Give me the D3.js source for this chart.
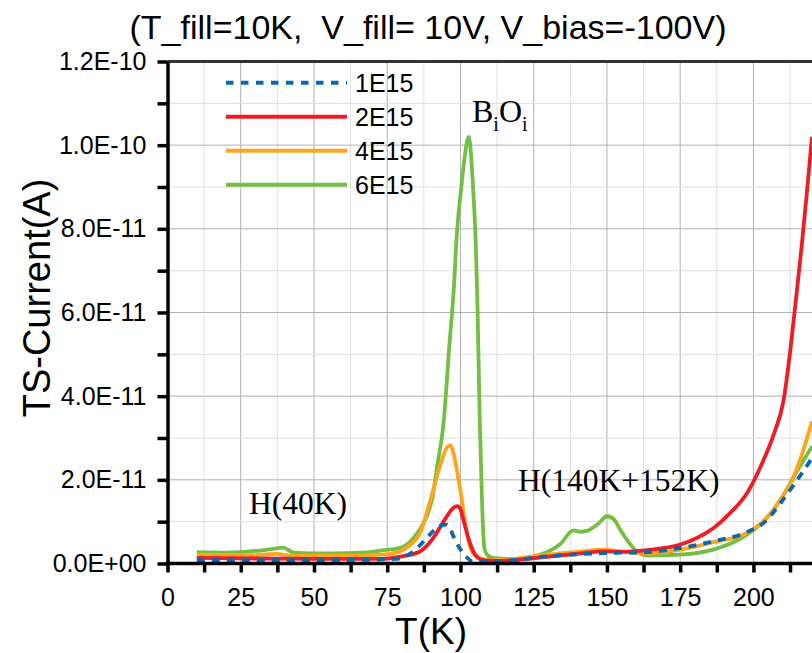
<!doctype html>
<html>
<head>
<meta charset="UTF-8">
<title>TS-Current vs T</title>
<script src="https://d3js.org/d3.v7.min.js"></script>
<style>
  body { margin: 0; background: #fff; }
</style>
</head>
<body>
<svg id="chart" width="812" height="653" font-family="Liberation Sans, Arial, sans-serif"></svg>
<script>
// temperatures (K) and currents (pA = 1E-12 A)
var tBlue = [10, 30, 50, 70, 78, 82, 85, 88, 90.8, 93, 95.3, 96.5, 97.4, 98.6, 99.7, 101, 102, 104.2, 110, 118, 129.5, 140, 149, 163.7, 175, 186.3, 197.8, 204, 209.2, 214, 220];
var iBlue = [0.8, 0.8, 0.8, 0.9, 1.1, 2.0, 3.5, 5.7, 7.8, 9.0, 9.3, 8.4, 6.8, 5.0, 3.7, 2.4, 1.6, 0.5, 0.5, 0.8, 1.7, 2.2, 2.5, 2.7, 3.7, 5.3, 7.5, 10, 14.4, 19, 25.2];

var tRed = [10, 30, 50, 73.6, 80, 86, 89, 91.8, 93.5, 95.3, 97, 98.9, 100, 101, 102.2, 103.3, 104.5, 105.6, 107.9, 112, 118, 129.5, 141, 148.8, 155, 163.7, 175, 180.7, 186.4, 192.1, 197.8, 203.5, 207, 210.3, 212.6, 214.5, 216.5, 218.3, 220];
var iRed = [1.35, 1.2, 1.1, 1.1, 1.7, 2.8, 4.6, 7.2, 9.2, 11.2, 12.9, 13.7, 13.0, 10.4, 7.4, 4.8, 2.8, 1.6, 0.8, 0.6, 0.8, 1.6, 2.4, 2.9, 2.8, 3.2, 4.5, 6.1, 8.5, 12.1, 16.8, 24.8, 31, 39, 51, 63, 76, 89, 102];

var tOrange = [10, 30, 37, 43, 50, 60, 73.6, 80.5, 83.5, 86, 89.5, 92.9, 95.3, 96.6, 97.6, 98.6, 100.3, 102, 103.7, 106, 110, 118, 129.5, 140, 148.8, 156, 163.7, 175, 186.3, 197.8, 204, 209.2, 213.8, 217, 220];
var iOrange = [2.1, 2.0, 2.3, 1.8, 1.8, 1.8, 2.1, 3.3, 4.8, 7.0, 14.5, 23, 27.6, 28.3, 26.5, 23, 16, 8, 3.2, 1.5, 0.8, 1.1, 2.1, 2.8, 3.3, 2.8, 2.4, 3.3, 5.1, 7.3, 10.5, 15.2, 20.8, 27, 34];

var tGreen = [10, 20, 30, 36, 39.5, 43, 50, 62, 70, 74, 78, 81, 83, 85.5, 88.5, 90.5, 92, 94.3, 96.2, 97.9, 98.6, 100.3, 101.5, 102.8, 104.3, 105.2, 105.8, 106.6, 107.4, 108.2, 109.2, 110.5, 113, 118, 124, 129.5, 134, 138.6, 141, 143.2, 147, 150, 152.5, 154.5, 157.5, 160.2, 163.7, 175, 186.3, 197.8, 204, 209.2, 214, 220];
var iGreen = [2.7, 2.6, 3.0, 3.5, 3.8, 2.6, 2.4, 2.5, 2.8, 3.2, 3.5, 4.2, 5.3, 7.5, 11.3, 16, 23, 34, 52, 67.6, 77, 90, 97.5, 102, 90, 77, 62, 34, 14, 3.5, 2.0, 1.5, 1.2, 1.1, 1.6, 2.7, 4.6, 7.9, 7.6, 7.8, 9.5, 11.3, 10.5, 8.1, 5, 2.9, 1.9, 2.1, 3.3, 6.9, 10.5, 15.2, 21, 28];

var seriesNames = ["1E15", "2E15", "4E15", "6E15"];
var seriesColors = ["#0b67b2", "#ee1d25", "#ffa51d", "#72bf44"];

var xTickValues = [0, 25, 50, 75, 100, 125, 150, 175, 200];
var yTickValues = [0, 20, 40, 60, 80, 100, 120];
var yTickLabels = ["0.0E+00", "2.0E-11", "4.0E-11", "6.0E-11", "8.0E-11", "1.0E-10", "1.2E-10"];

var svg = d3.select("#chart");
var pLeft = 167.5, pRight = 812, pTop = 61.5, pBottom = 563.5;

var x = d3.scaleLinear().domain([0, 220]).range([pLeft, pRight]);
var y = d3.scaleLinear().domain([0, 120]).range([pBottom, pTop]);

// grid
var grid = svg.append("g");
d3.range(12.5, 220, 12.5).forEach(function(t){
  grid.append("line").attr("x1", x(t)).attr("x2", x(t)).attr("y1", pTop).attr("y2", pBottom)
    .attr("stroke", t % 25 === 0 ? "#b0b0b0" : "#dedede").attr("stroke-width", 1);
});
d3.range(10, 120, 10).forEach(function(v){
  grid.append("line").attr("x1", pLeft).attr("x2", pRight).attr("y1", y(v)).attr("y2", y(v))
    .attr("stroke", v % 20 === 0 ? "#b0b0b0" : "#dedede").attr("stroke-width", 1);
});

// top frame
svg.append("line").attr("x1", pLeft).attr("x2", pRight).attr("y1", pTop).attr("y2", pTop)
  .attr("stroke", "#333").attr("stroke-width", 3);

// curves
svg.append("clipPath").attr("id", "clip").append("rect")
  .attr("x", pLeft).attr("y", pTop).attr("width", pRight - pLeft).attr("height", pBottom - pTop);

var line = d3.line().x(function(d){ return x(d[0]); }).y(function(d){ return y(d[1]); })
  .curve(d3.curveMonotoneX);
var series = [
  {t: tBlue, v: iBlue, i: 0},
  {t: tRed, v: iRed, i: 1},
  {t: tOrange, v: iOrange, i: 2},
  {t: tGreen, v: iGreen, i: 3}
];
var plot = svg.append("g").attr("clip-path", "url(#clip)");
series.slice().reverse().forEach(function(s){
  plot.append("path")
    .attr("d", line(d3.zip(s.t, s.v)))
    .attr("fill", "none")
    .attr("stroke", seriesColors[s.i])
    .attr("stroke-width", 3.8)
    .attr("stroke-dasharray", s.i === 0 ? "8,7" : null);
});

// axes
var xAxis = svg.append("g").attr("transform", "translate(0," + pBottom + ")")
  .call(d3.axisBottom(x).tickValues(d3.range(0, 220, 12.5)).tickSize(9).tickSizeOuter(0).tickPadding(16)
    .tickFormat(function(d){ return xTickValues.indexOf(d) >= 0 ? d : ""; }));
var yAxis = svg.append("g").attr("transform", "translate(" + pLeft + ",0)")
  .call(d3.axisLeft(y).tickValues(d3.range(0, 121, 10)).tickSize(10).tickSizeOuter(0).tickPadding(11)
    .tickFormat(function(d){ var k = yTickValues.indexOf(d); return k >= 0 ? yTickLabels[k] : ""; }));
[xAxis, yAxis].forEach(function(a){
  a.attr("font-family", "Liberation Sans, Arial, sans-serif");
  a.select(".domain").attr("stroke", "#000").attr("stroke-width", 3.5);
  a.selectAll(".tick line").attr("stroke", "#000").attr("stroke-width", 3.5);
  a.selectAll(".tick text").attr("font-size", 25).attr("fill", "#000");
});
xAxis.select(".domain").attr("d", "M" + (pLeft - 2) + ",0H" + pRight);

// titles
svg.append("text").attr("x", 428).attr("y", 39).attr("text-anchor", "middle")
  .attr("font-size", 34).style("white-space", "pre")
  .text("(T_fill=10K,  V_fill= 10V, V_bias=-100V)");
svg.append("text").attr("x", 431).attr("y", 644).attr("text-anchor", "middle")
  .attr("font-size", 37).text("T(K)");
svg.append("text").attr("transform", "translate(50,298) rotate(-90)").attr("text-anchor", "middle")
  .attr("font-size", 38).text("TS-Current(A)");

// legend
var legend = svg.append("g");
seriesNames.forEach(function(n, i){
  var ly = 82.7 + i * 34;
  legend.append("line").attr("x1", 226).attr("x2", 347).attr("y1", ly).attr("y2", ly)
    .attr("stroke", seriesColors[i]).attr("stroke-width", 4)
    .attr("stroke-dasharray", i === 0 ? "7.5,7.5" : null);
  legend.append("text").attr("x", 355).attr("y", ly + 9).attr("font-size", 25).text(n);
});

// annotations
var serif = "Liberation Serif, Times New Roman, serif";
var bo = svg.append("text").attr("x", 472).attr("y", 122).attr("font-size", 32).attr("font-family", serif);
bo.append("tspan").text("B");
bo.append("tspan").attr("font-size", 20).attr("dy", 9).text("i");
bo.append("tspan").attr("dy", -9).text("O");
bo.append("tspan").attr("font-size", 20).attr("dy", 9).text("i");
svg.append("text").attr("x", 249).attr("y", 514).attr("font-size", 31.5).attr("font-family", serif).text("H(40K)");
svg.append("text").attr("x", 518).attr("y", 491).attr("font-size", 31.5).attr("font-family", serif).text("H(140K+152K)");
</script>
</body>
</html>
